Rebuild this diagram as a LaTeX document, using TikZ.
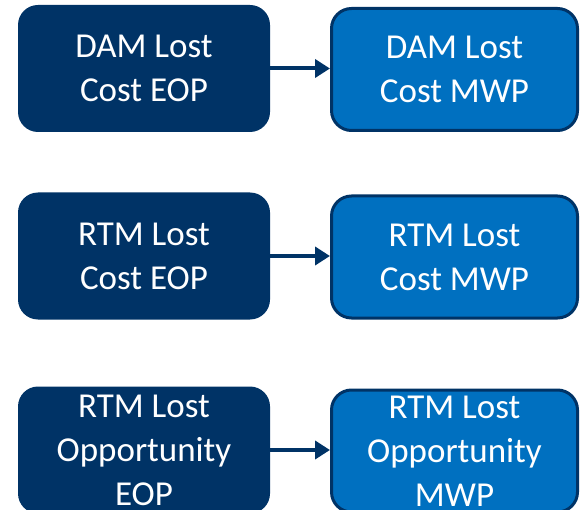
\documentclass[tikz,border=0pt]{standalone}
\usepackage{fontspec}
\setmainfont{Carlito}
\usetikzlibrary{arrows.meta}
\definecolor{navy}{HTML}{003366}
\definecolor{mblue}{HTML}{0070C0}
\begin{document}
\begin{tikzpicture}[x=1pt,y=-1pt,
  eop/.style={rectangle, rounded corners=20pt, fill=navy, text=white,
    minimum width=252pt, minimum height=127pt, align=center,
    font=\fontsize{35}{44}\selectfont, inner sep=0pt},
  mwp/.style={eop, fill=mblue, draw=navy, line width=3pt,
    minimum width=246pt, minimum height=122pt},
  link/.style={-{Triangle[length=15pt,width=18pt]}, draw=navy, line width=4pt}]
\useasboundingbox (0,0) rectangle (580,510);
\node[eop] (e1) at (144,68.5) {DAM Lost\\Cost EOP};
\node[mwp] (m1) at (454.5,69.5) {DAM Lost\\Cost MWP};
\node[eop] (e2) at (144,256) {RTM Lost\\Cost EOP};
\node[mwp] (m2) at (454.5,257) {RTM Lost\\Cost MWP};
\node[eop] (e3) at (144,450) {RTM Lost\\Opportunity\\EOP};
\node[mwp] (m3) at (454.5,451) {RTM Lost\\Opportunity\\MWP};
\draw[link] (e1) -- (m1.west |- e1);
\draw[link] (e2) -- (m2.west |- e2);
\draw[link] (e3) -- (m3.west |- e3);
\end{tikzpicture}
\end{document}
